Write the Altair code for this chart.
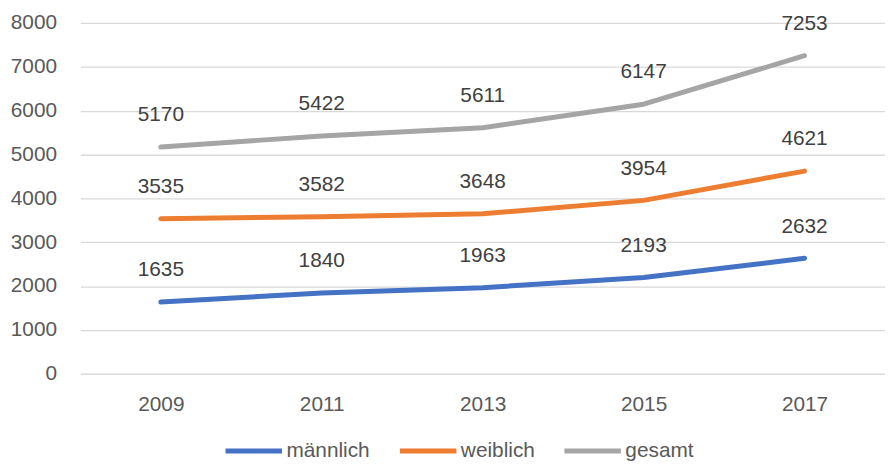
import altair as alt
import pandas as pd

years = ["2009", "2011", "2013", "2015", "2017"]
maennlich = [1635, 1840, 1963, 2193, 2632]
weiblich = [3535, 3582, 3648, 3954, 4621]
gesamt = [5170, 5422, 5611, 6147, 7253]

series_names = ["männlich", "weiblich", "gesamt"]
series_colors = ["#4472C4", "#ED7D31", "#A5A5A5"]

rows = []
for name, vals in zip(series_names, [maennlich, weiblich, gesamt]):
    for y, v in zip(years, vals):
        rows.append({"Jahr": y, "Wert": v, "Serie": name})
df = pd.DataFrame(rows)

FONT = "Liberation Sans"
FS = 21

x = alt.X("Jahr:O", sort=years, title=None,
          axis=alt.Axis(labelAngle=0, ticks=False, domain=False, grid=False,
                        labelPadding=20, labelFontSize=FS, labelFont=FONT,
                        labelColor="#595959"))
y = alt.Y("Wert:Q", title=None,
          scale=alt.Scale(domain=[0, 8000], nice=False),
          axis=alt.Axis(values=list(range(0, 8001, 1000)), format="d", ticks=False,
                        domain=False, grid=True, gridColor="#D9D9D9", gridWidth=1.3,
                        labelPadding=24, labelFontSize=FS, labelFont=FONT,
                        labelColor="#595959"))
color = alt.Color("Serie:N",
                  scale=alt.Scale(domain=series_names, range=series_colors),
                  legend=alt.Legend(title=None, orient="none", legendX=144, legendY=401,
                                    direction="horizontal", symbolType="stroke",
                                    symbolSize=3249, symbolStrokeWidth=5,
                                    labelFontSize=FS, labelFont=FONT, labelColor="#595959",
                                    labelOffset=2, columnPadding=19))

base = alt.Chart(df)
lines = base.mark_line(strokeWidth=5, interpolate="linear", strokeCap="round",
                       strokeJoin="round").encode(x=x, y=y, color=color)
labels = base.mark_text(dy=-32, baseline="middle", fontSize=FS, font=FONT,
                        color="#404040").encode(
    x=alt.X("Jahr:O", sort=years), y="Wert:Q", text="Wert:Q")

chart = alt.layer(lines, labels).properties(
    width=812, height=354,
    autosize=alt.AutoSizeParams(type="none"),
    padding={"left": 73, "top": 13, "right": 0, "bottom": 89},
).configure_view(stroke=None)

chart.save("out.html", embed_options={"renderer": "svg", "actions": False})
